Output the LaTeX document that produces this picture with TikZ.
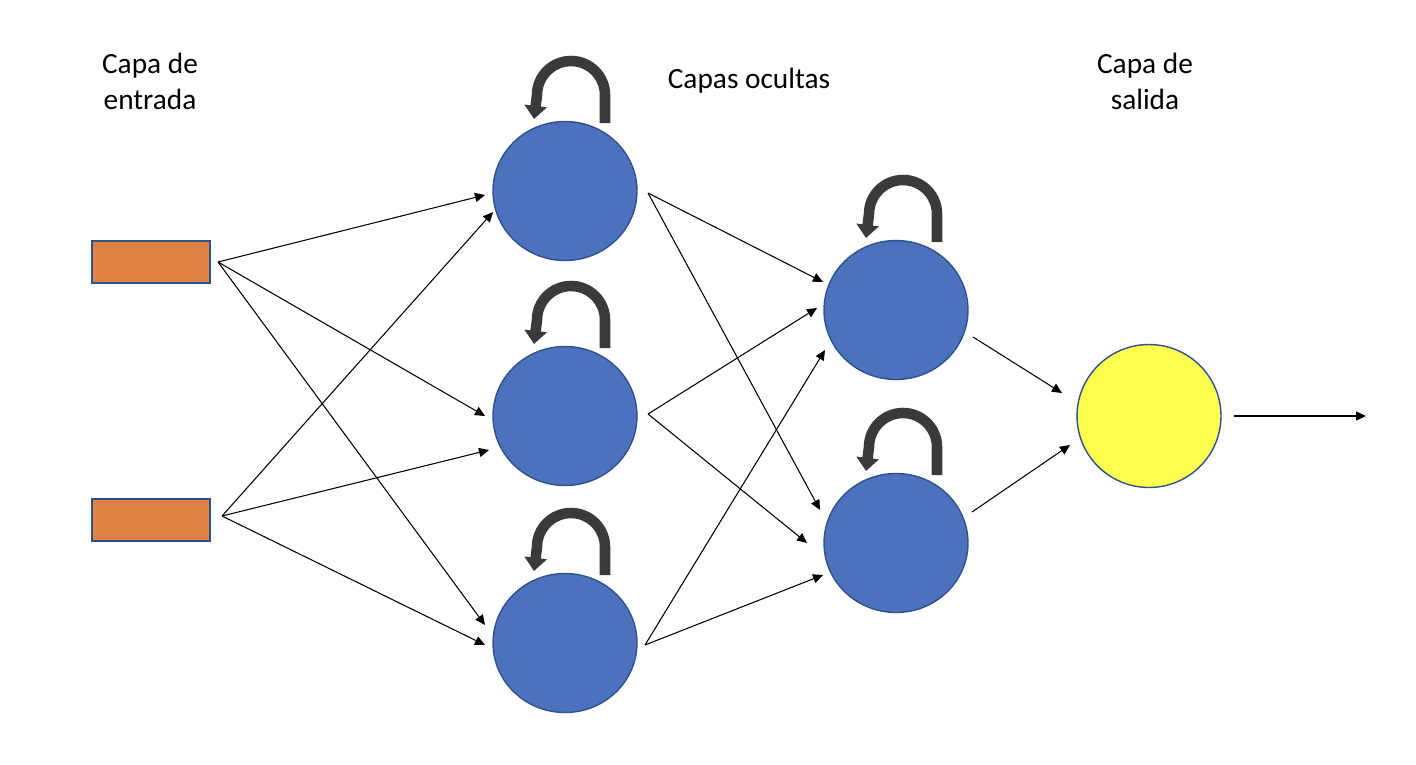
\documentclass[tikz,border=0pt]{standalone}
\usepackage{fontspec}
\setmainfont{Carlito}
\usetikzlibrary{arrows.meta,shapes.geometric,calc}

\definecolor{nodeblue}{HTML}{4E71BE}
\definecolor{edgeblue}{HTML}{2F528F}
\definecolor{inorange}{HTML}{DF8244}
\definecolor{outyellow}{HTML}{FFFF4F}
\definecolor{loopgray}{HTML}{3A3A3A}

\tikzset{
  entrada/.style = {rectangle, draw=edgeblue, fill=inorange, line width=1.2pt,
                    minimum width=2.36cm, minimum height=0.84cm, inner sep=0pt},
  oculta/.style  = {ellipse, draw=edgeblue, fill=nodeblue, line width=0.8pt,
                    minimum width=2.88cm, minimum height=2.78cm, inner sep=0pt},
  salidan/.style = {oculta, fill=outyellow, minimum height=2.86cm},
  titulo/.style  = {align=center, font=\fontsize{16.7}{20.5}\selectfont},
  conn/.style    = {-{Triangle[length=5.7pt,width=5.2pt]}, line width=0.6pt, black},
  bucle/.style   = {-{Triangle[length=7.5pt,width=12.5pt]}, line width=6pt, loopgray}
}

\begin{document}
\begin{tikzpicture}[x=0.02cm,y=0.02cm]

\useasboundingbox (0,0) rectangle (1416,-764);

\node[titulo] (tin)  at (150,-81)  {Capa de\\entrada};
\node[titulo] (thid) at (749,-81)  {Capas ocultas};
\node[titulo] (tout) at (1145,-81) {Capa de\\salida};

\node[entrada] (i1) at (151,-262) {};
\node[entrada] (i2) at (151,-520) {};

\node[oculta] (h1) at (565,-191) {};
\node[oculta] (h2) at (565,-416) {};
\node[oculta] (h3) at (565,-643) {};

\node[oculta] (o1) at (896,-310) {};
\node[oculta] (o2) at (896,-543) {};

\node[salidan] (out) at (1149,-416) {};

\coordinate (i1o) at ($(i1.east)+(7,0)$);
\coordinate (i2o) at ($(i2.east)+(11,4)$);
\coordinate (h1o) at ($(h1)+(83,-2)$);
\coordinate (h2o) at ($(h2)+(83,2)$);
\coordinate (h3o) at ($(h3)+(80,-2)$);
\coordinate (o1o) at ($(o1)+(77,-27)$);
\coordinate (o2o) at ($(o2)+(76,31)$);
\coordinate (outo) at ($(out)+(85,0)$);
\coordinate (fin) at ($(out)+(217,0)$);

\draw[conn] (i1o) -- ($(h1)+(-80,-4)$);
\draw[conn] (i1o) -- ($(h2)+(-80,0)$);
\draw[conn] (i1o) -- ($(h3)+(-80,18)$);
\draw[conn] (i2o) -- ($(h1)+(-72,-21)$);
\draw[conn] (i2o) -- ($(h2)+(-76,-34)$);
\draw[conn] (i2o) -- ($(h3)+(-80,-2)$);

\draw[conn] (h1o) -- ($(o1)+(-73,28)$);
\draw[conn] (h1o) -- ($(o2)+(-76,33)$);
\draw[conn] (h2o) -- ($(o1)+(-79,2)$);
\draw[conn] (h2o) -- ($(o2)+(-89,0)$);
\draw[conn] (h3o) -- ($(o1)+(-71,-40)$);
\draw[conn] (h3o) -- ($(o2)+(-73,-32)$);

\draw[conn] (o1o) -- ($(out)+(-87,23)$);
\draw[conn] (o2o) -- ($(out)+(-79,-29)$);
\draw[conn] (outo) -- (fin);

\draw[bucle] ($(h1)+(40,68)$) -- ++(0,28) arc[start angle=0,end angle=180,radius=34] -- ++(-3,-24);
\draw[bucle] ($(h2)+(40,68)$) -- ++(0,28) arc[start angle=0,end angle=180,radius=34] -- ++(-3,-24);
\draw[bucle] ($(h3)+(40,68)$) -- ++(0,28) arc[start angle=0,end angle=180,radius=34] -- ++(-3,-24);
\draw[bucle] ($(o1)+(41,68)$) -- ++(0,28) arc[start angle=0,end angle=180,radius=34] -- ++(-3,-24);
\draw[bucle] ($(o2)+(41,68)$) -- ++(0,28) arc[start angle=0,end angle=180,radius=34] -- ++(-3,-24);

\end{tikzpicture}
\end{document}
